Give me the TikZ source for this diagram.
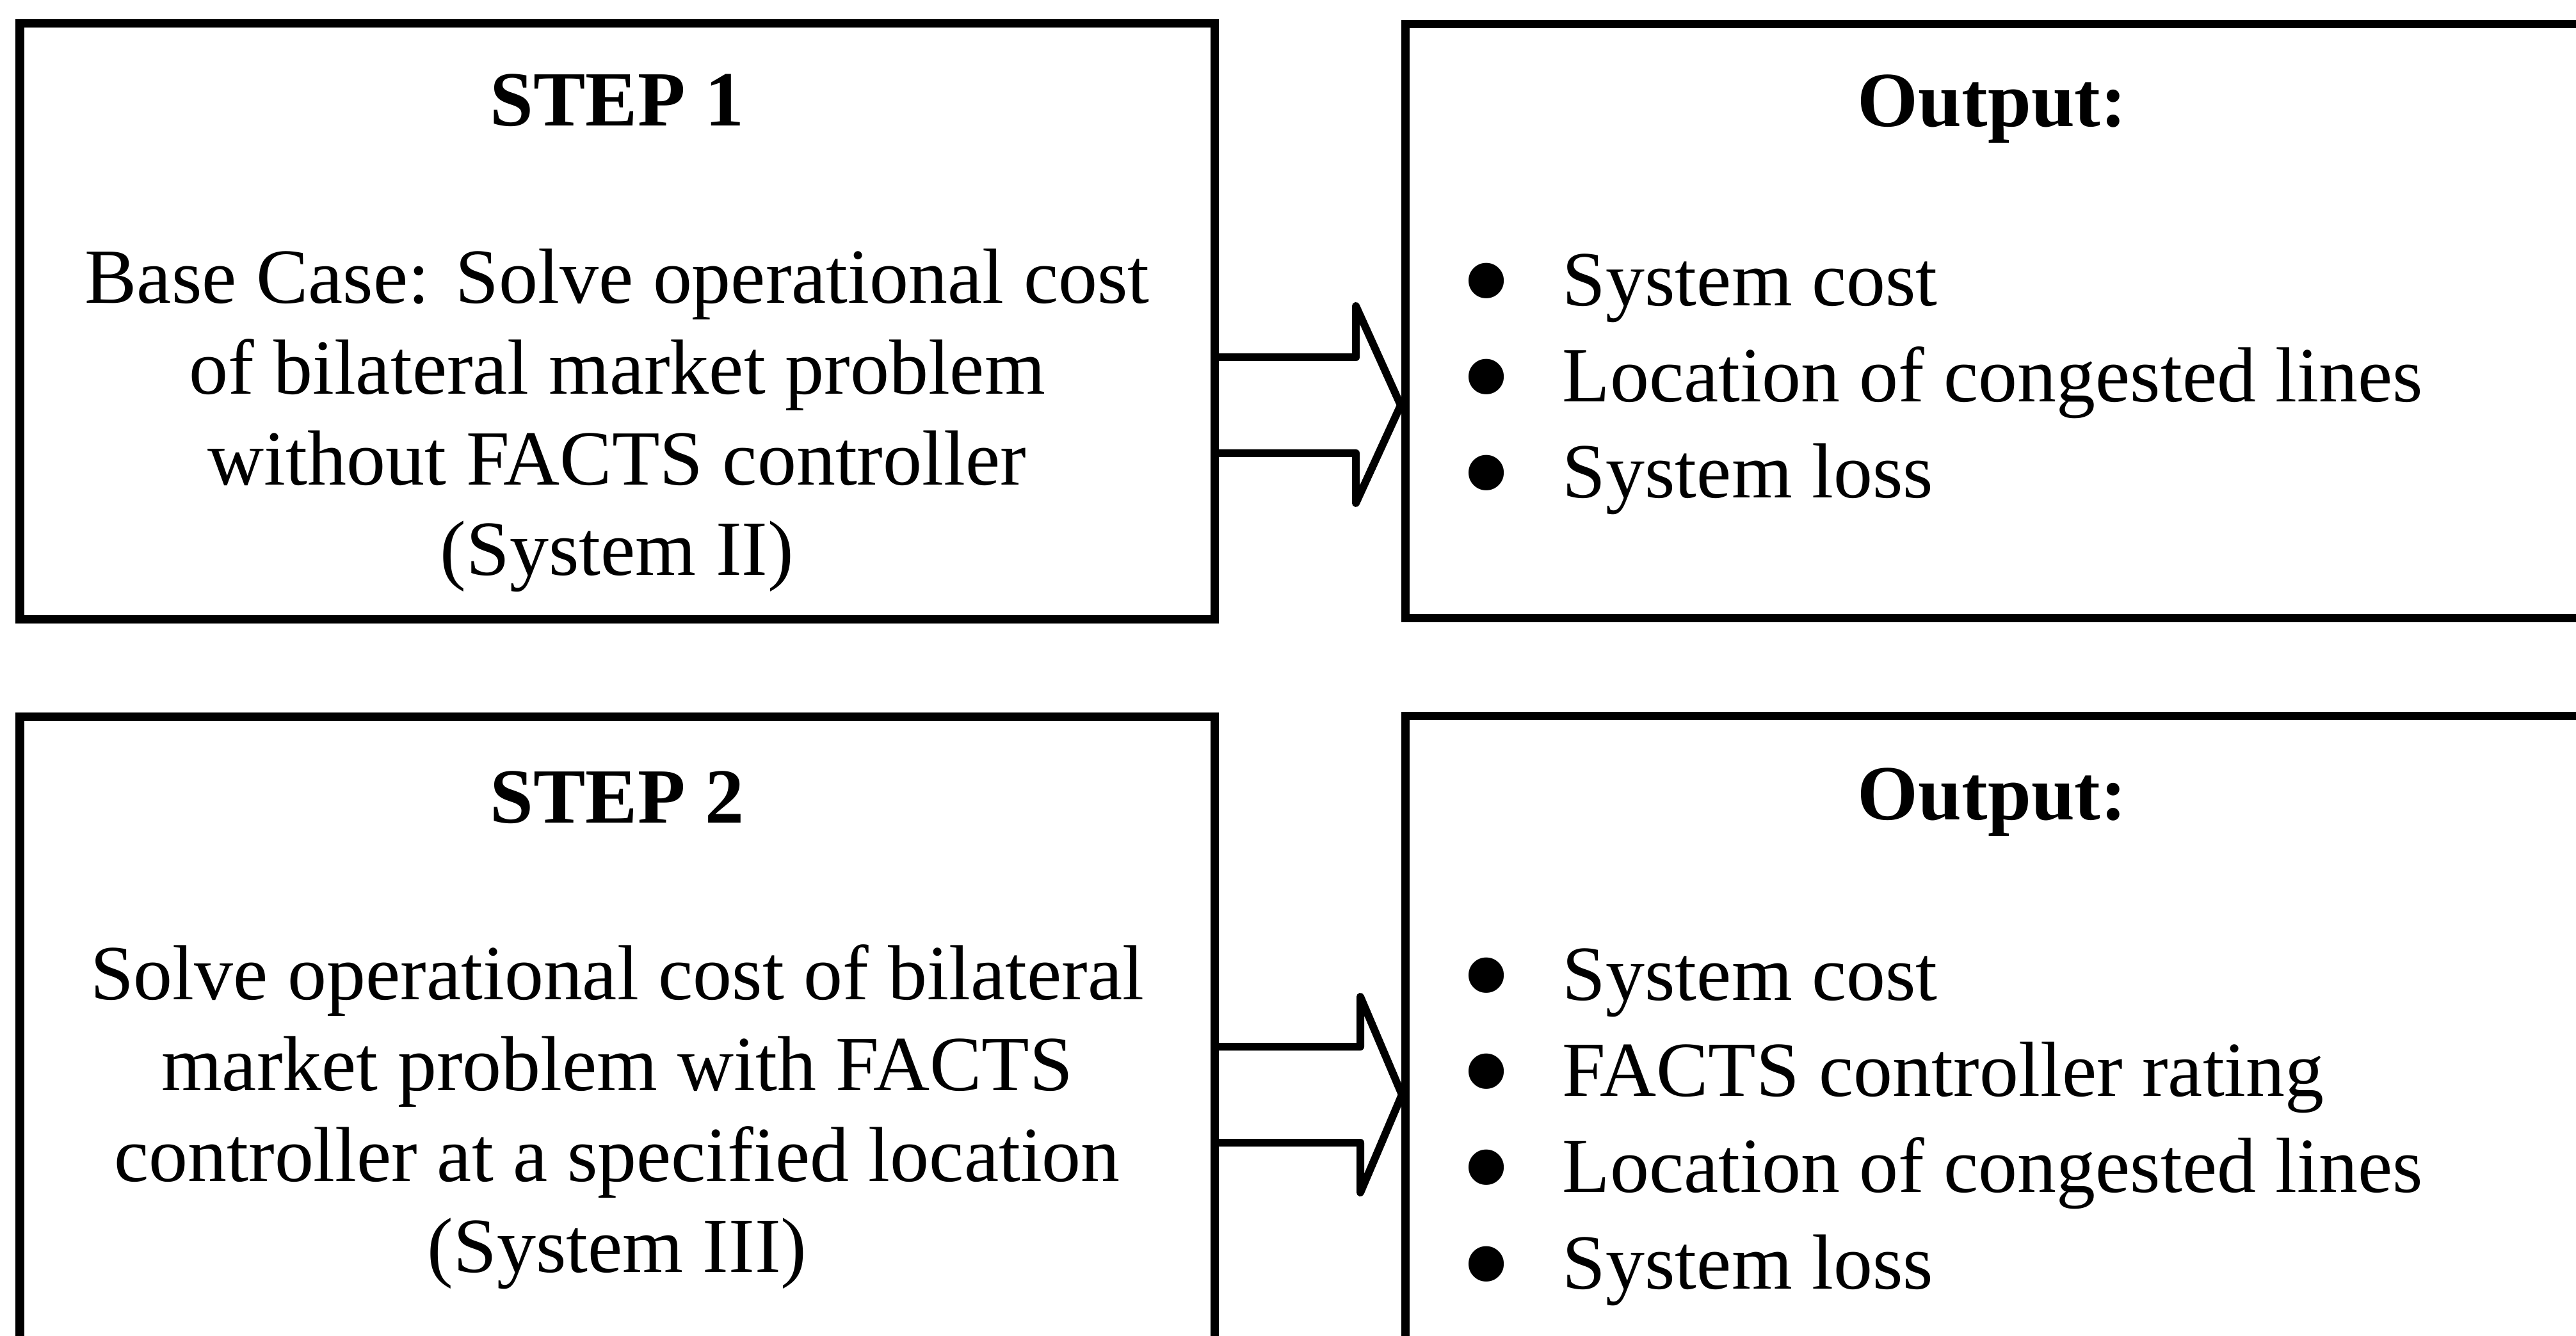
\documentclass[tikz,border=0pt]{standalone}
\usepackage{fontspec}
\usepackage{graphicx}
\setmainfont{Liberation Serif}
\usetikzlibrary{calc}

\tikzset{
  box/.style={draw, line width=0.13cm, outer sep=0pt, inner sep=0pt, anchor=north west},
  title/.style={anchor=base, inner sep=0pt, font=\fontsize{34.7pt}{40.4pt}\selectfont\bfseries},
  body/.style={anchor=base, align=center, inner sep=0pt, font=\fontsize{34.7pt}{40.4pt}\selectfont},
  items/.style={anchor=base west, align=left, inner sep=0pt, font=\fontsize{34.7pt}{42.7pt}\selectfont},
  blockarrow/.style={line width=0.12cm, line join=round}
}
\newcommand{\itm}[1]{\makebox[1.59cm][l]{\raisebox{-0.38cm}[0pt][0pt]{\scalebox{1.9}{\textbullet}}}#1}

\begin{document}
\begin{tikzpicture}
\useasboundingbox (0,0) rectangle (40.24,20.86);
\clip (0,0) rectangle (40.24,20.86);

% boxes
\node[box, minimum width=18.66cm, minimum height=9.31cm] (step1) at (0.31,20.49) {};
\node[box, minimum width=18.35cm, minimum height=9.28cm] (out1) at (21.95,20.48) {};
\node[box, minimum width=18.66cm, minimum height=10.66cm] (step2) at (0.31,9.66) {};
\node[box, minimum width=18.35cm, minimum height=10.68cm] (out2) at (21.95,9.68) {};

% step 1 (base = last line)
\node[title] (t1) at (9.64,18.89) {STEP 1};
\node[body] (b1) at (9.64,11.87) {Base Case: Solve operational cost\\of bilateral market problem\\without FACTS controller\\(System II)};
\node[title] (o1) at (31.12,18.88) {Output:};
\node[items] (l1) at (22.81,13.08) {\itm{System cost}\\\itm{Location of congested lines}\\\itm{System loss}};

% step 2
\node[title] (t2) at (9.64,8.01) {STEP 2};
\node[body] (b2) at (9.64,0.99) {Solve operational cost of bilateral\\market problem with FACTS\\controller at a specified location\\(System III)};
\node[title] (o2) at (31.12,8.06) {Output:};
\node[items] (l2) at (22.81,0.73) {\itm{System cost}\\\itm{FACTS controller rating}\\\itm{Location of congested lines}\\\itm{System loss}};

% block arrows
\draw[blockarrow] (step1.east |- 0,15.28) -- (21.18,15.28) -- (21.18,16.08)
  -- ($(out1.west |- 0,14.53)+(-0.07,0)$) -- (21.18,13.00) -- (21.18,13.78) -- (step1.east |- 0,13.78);
\draw[blockarrow] (step2.east |- 0,4.51) -- (21.25,4.51) -- (21.25,5.29)
  -- ($(out2.west |- 0,3.76)+(-0.05,0)$) -- (21.25,2.23) -- (21.25,3.01) -- (step2.east |- 0,3.01);
\end{tikzpicture}
\end{document}
